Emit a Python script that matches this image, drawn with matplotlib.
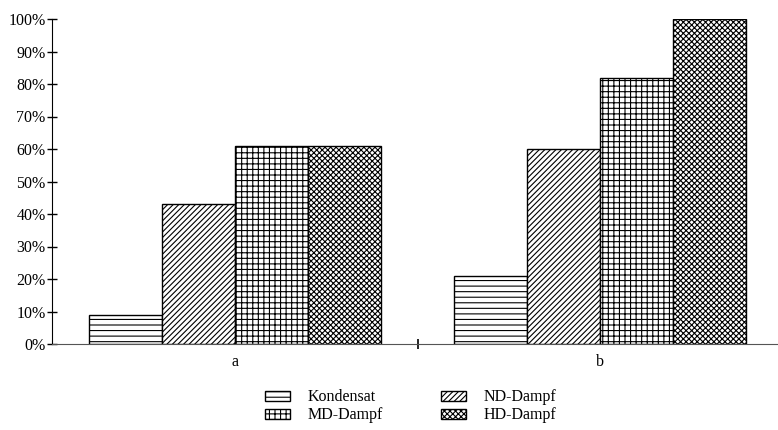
import numpy as np
import matplotlib.pyplot as plt
from matplotlib.ticker import FixedLocator, PercentFormatter

plt.rcParams['font.family'] = ['Liberation Serif', 'DejaVu Serif']
plt.rcParams['hatch.linewidth'] = 0.8

categories = ["a", "b"]
series = ["Kondensat", "ND-Dampf", "MD-Dampf", "HD-Dampf"]
values = {
    "Kondensat": [9, 21],
    "ND-Dampf": [43, 60],
    "MD-Dampf": [61, 82],
    "HD-Dampf": [61, 100],
}
hatches = ["---", "//////", "+++", "xxxxxx"]

fig = plt.figure(figsize=(7.78, 4.30), dpi=100)
ax = fig.add_axes([52 / 778, 86 / 430, 731 / 778, 325 / 430])

x = np.arange(len(categories))
w = 0.2
bars = []
for i, (name, h) in enumerate(zip(series, hatches)):
    b = ax.bar(x - 0.3 + i * w, values[name], width=w, color="white",
               edgecolor="black", linewidth=1.0, hatch=h, label=name)
    bars.append(b)

ax.set_xlim(-0.5, 1.5)
ax.set_ylim(0, 100)
ax.set_yticks(range(0, 101, 10))
ax.yaxis.set_major_formatter(PercentFormatter(decimals=0))
ax.set_xticks(x)
ax.set_xticklabels(categories)
ax.xaxis.set_minor_locator(FixedLocator([0.5]))
ax.tick_params(axis="x", which="major", length=0, labelsize=11.5, pad=7)
ax.tick_params(axis="x", which="minor", direction="inout", length=7, width=1.2)
ax.tick_params(axis="y", direction="inout", length=7, width=1, labelsize=11.5, pad=1)
for s in ["top", "right"]:
    ax.spines[s].set_visible(False)
ax.spines["bottom"].set_color("#555555")
ax.spines["left"].set_color("black")

# row-major order: Kondensat, ND-Dampf / MD-Dampf, HD-Dampf
order = [0, 2, 1, 3]
fig.legend([bars[i] for i in order], [series[i] for i in order],
           loc="lower center", bbox_to_anchor=(0.528, -0.018), ncol=2,
           frameon=False, fontsize=11.5, handlelength=1.6, handleheight=0.6,
           columnspacing=3.6, labelspacing=0.12, handletextpad=1.1)

fig.savefig("out.png", dpi=100)
